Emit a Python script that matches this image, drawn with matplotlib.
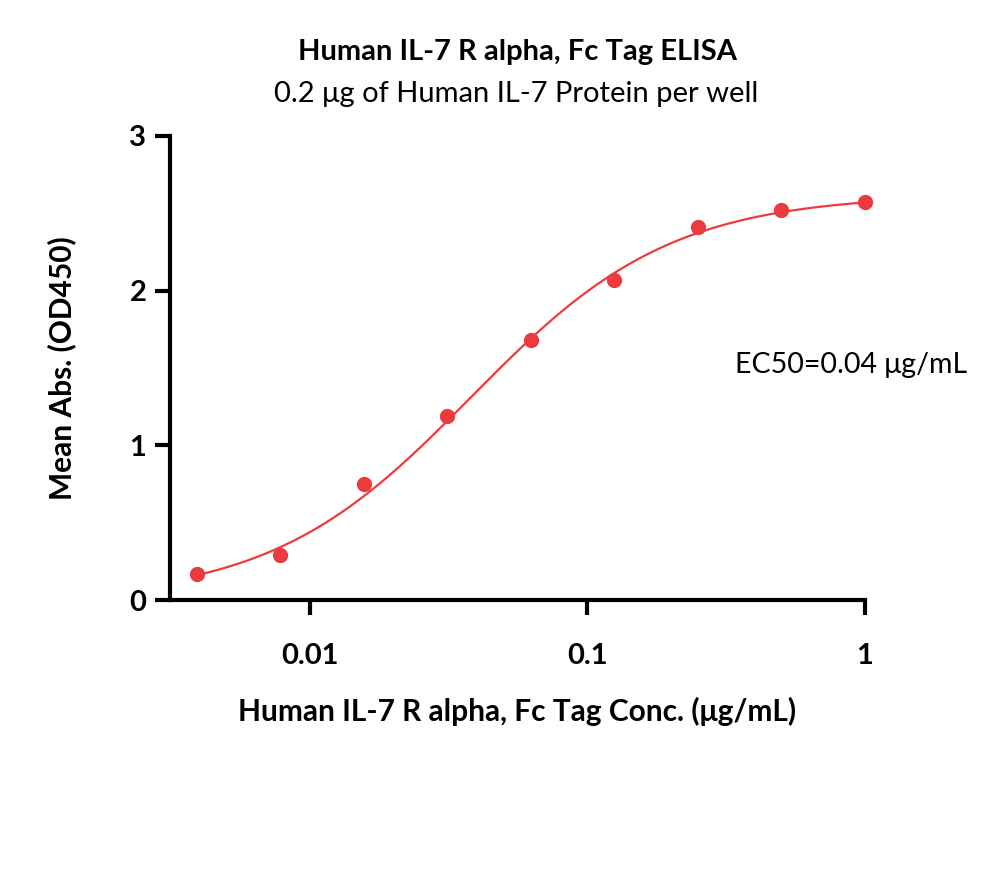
import numpy as np
import matplotlib
matplotlib.use('Agg')
import matplotlib.pyplot as plt
from matplotlib.ticker import FixedLocator, NullLocator

plt.rcParams['font.family'] = ['Lato', 'DejaVu Sans']

# measured points
conc = [1.0, 0.5, 0.25, 0.125, 0.0625, 0.03125, 0.015625, 0.0078125, 0.00390625]
od450 = [2.57, 2.52, 2.41, 2.07, 1.68, 1.19, 0.75, 0.29, 0.17]

# 4PL fit parameters
bottom = 0.0
top = 2.62
ec50 = 0.038
hill = 1.2

xticks = [0.01, 0.1, 1]
xticklabels = ['0.01', '0.1', '1']
yticks = [0, 1, 2, 3]

red = '#ec3b3f'

fig = plt.figure(figsize=(10, 8.76), dpi=100)
ax = fig.add_axes([0.17, 0.315, 0.695, 0.53])

xs = np.logspace(np.log10(min(conc)), np.log10(max(conc)), 300)
fit = bottom + (top - bottom) / (1 + (ec50 / xs) ** hill)
ax.plot(xs, fit, color=red, lw=1.6, zorder=2)
ax.plot(conc, od450, 'o', color=red, ms=11, mec='none', zorder=3, clip_on=False)

ax.set_xscale('log')
ax.set_xlim(0.00313, 1.0)
ax.set_ylim(0, 3)
ax.xaxis.set_major_locator(FixedLocator(xticks))
ax.xaxis.set_minor_locator(NullLocator())
ax.set_xticklabels(xticklabels)
ax.set_yticks(yticks)

for s in ['top', 'right']:
    ax.spines[s].set_visible(False)
for s in ['left', 'bottom']:
    ax.spines[s].set_linewidth(3)
    ax.spines[s].set_capstyle('projecting')

ax.tick_params(axis='both', width=3, length=11, labelsize=21)
ax.tick_params(axis='x', pad=20)
ax.tick_params(axis='y', pad=6)
for lab in ax.get_xticklabels() + ax.get_yticklabels():
    lab.set_fontweight('bold')

ax.set_xlabel('Human IL-7 R alpha, Fc Tag Conc. (μg/mL)', fontsize=21.5, fontweight='bold', labelpad=20)
ax.set_ylabel('Mean Abs. (OD450)', fontsize=21.5, fontweight='bold', labelpad=38)

fig.text(0.518, 0.941, 'Human IL-7 R alpha, Fc Tag ELISA', ha='center', va='center',
         fontsize=21, fontweight='bold')
fig.text(0.516, 0.893, '0.2 μg of Human IL-7 Protein per well', ha='center', va='center',
         fontsize=21)
fig.text(0.735, 0.583, 'EC50=0.04 μg/mL', ha='left', va='center', fontsize=20.5)

fig.savefig('out.png', dpi=100, facecolor='white')
